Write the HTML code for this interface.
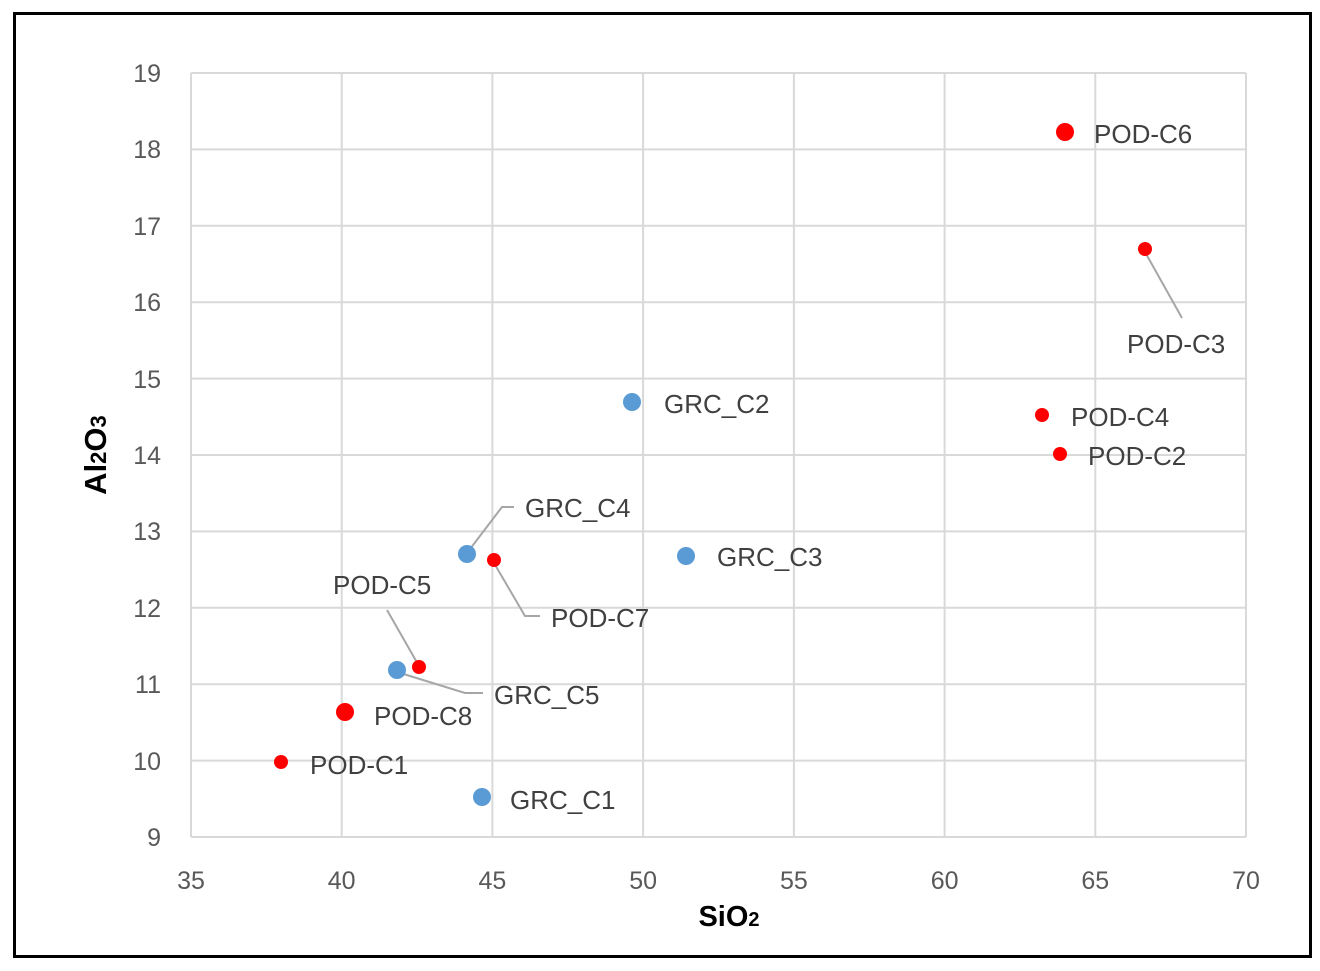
<!DOCTYPE html>
<html><head><meta charset="utf-8"><style>
body{margin:0;background:#fff;}
svg text{font-family:"Liberation Sans",Calibri,sans-serif;}
</style></head><body>
<svg width="1320" height="966" viewBox="0 0 1320 966" xmlns="http://www.w3.org/2000/svg">
<rect x="0" y="0" width="1320" height="966" fill="#fff"/>
<rect x="14.5" y="13.5" width="1296" height="943" fill="none" stroke="#000" stroke-width="3"/>
<g stroke="#d9d9d9" stroke-width="2">
<line x1="191" y1="73" x2="1246" y2="73"/>
<line x1="191" y1="149.4" x2="1246" y2="149.4"/>
<line x1="191" y1="225.8" x2="1246" y2="225.8"/>
<line x1="191" y1="302.2" x2="1246" y2="302.2"/>
<line x1="191" y1="378.6" x2="1246" y2="378.6"/>
<line x1="191" y1="455" x2="1246" y2="455"/>
<line x1="191" y1="531.4" x2="1246" y2="531.4"/>
<line x1="191" y1="607.8" x2="1246" y2="607.8"/>
<line x1="191" y1="684.2" x2="1246" y2="684.2"/>
<line x1="191" y1="760.6" x2="1246" y2="760.6"/>
<line x1="191" y1="837" x2="1246" y2="837"/>
<line x1="191" y1="73" x2="191" y2="837"/>
<line x1="341.7" y1="73" x2="341.7" y2="837"/>
<line x1="492.4" y1="73" x2="492.4" y2="837"/>
<line x1="643.1" y1="73" x2="643.1" y2="837"/>
<line x1="793.9" y1="73" x2="793.9" y2="837"/>
<line x1="944.6" y1="73" x2="944.6" y2="837"/>
<line x1="1095.3" y1="73" x2="1095.3" y2="837"/>
<line x1="1246" y1="73" x2="1246" y2="837"/>
</g>
<g fill="#595959" font-size="25" text-anchor="end">
<text x="161" y="82">19</text><text x="161" y="158">18</text><text x="161" y="235">17</text>
<text x="161" y="311">16</text><text x="161" y="388">15</text><text x="161" y="464">14</text>
<text x="161" y="540">13</text><text x="161" y="617">12</text><text x="161" y="693">11</text>
<text x="161" y="770">10</text><text x="161" y="846">9</text>
</g>
<g fill="#595959" font-size="25" text-anchor="middle">
<text x="191" y="889">35</text><text x="341.7" y="889">40</text><text x="492.4" y="889">45</text>
<text x="643.1" y="889">50</text><text x="793.9" y="889">55</text><text x="944.6" y="889">60</text>
<text x="1095.3" y="889">65</text><text x="1246" y="889">70</text>
</g>
<text x="729" y="926" font-size="29" font-weight="bold" fill="#000" text-anchor="middle">SiO<tspan font-size="20">2</tspan></text>
<text transform="translate(106,455) rotate(-90)" font-size="31" font-weight="bold" fill="#000" text-anchor="middle">Al<tspan font-size="22">2</tspan>O<tspan font-size="22">3</tspan></text>
<g stroke="#a6a6a6" stroke-width="2" fill="none">
<polyline points="467,553 502,507 514,507"/>
<polyline points="494,563 525,616 540,616"/>
<polyline points="387,610 419,666"/>
<polyline points="397,672 465,693 483,693"/>
<polyline points="1145,252 1182,318"/>
</g>
<g fill="#5b9bd5">
<circle cx="632" cy="402" r="9"/><circle cx="467" cy="554" r="9"/><circle cx="686" cy="556" r="9"/>
<circle cx="397" cy="670" r="9"/><circle cx="482" cy="797" r="9"/>
</g>
<g fill="#ff0000">
<circle cx="1065" cy="132" r="9"/><circle cx="1145" cy="249" r="7"/><circle cx="1042" cy="415" r="7"/>
<circle cx="1060" cy="454" r="7"/><circle cx="494" cy="560" r="7"/><circle cx="419" cy="667" r="7"/>
<circle cx="345" cy="712" r="9"/><circle cx="281" cy="762" r="7"/>
</g>
<g fill="#404040" font-size="26">
<text x="1094" y="143">POD-C6</text>
<text x="1127" y="353">POD-C3</text>
<text x="664" y="413">GRC_C2</text>
<text x="1071" y="426">POD-C4</text>
<text x="1088" y="465">POD-C2</text>
<text x="525" y="517">GRC_C4</text>
<text x="717" y="566">GRC_C3</text>
<text x="333" y="594">POD-C5</text>
<text x="551" y="627">POD-C7</text>
<text x="494" y="704">GRC_C5</text>
<text x="374" y="725">POD-C8</text>
<text x="310" y="774">POD-C1</text>
<text x="510" y="809">GRC_C1</text>
</g>
</svg>
</body></html>
